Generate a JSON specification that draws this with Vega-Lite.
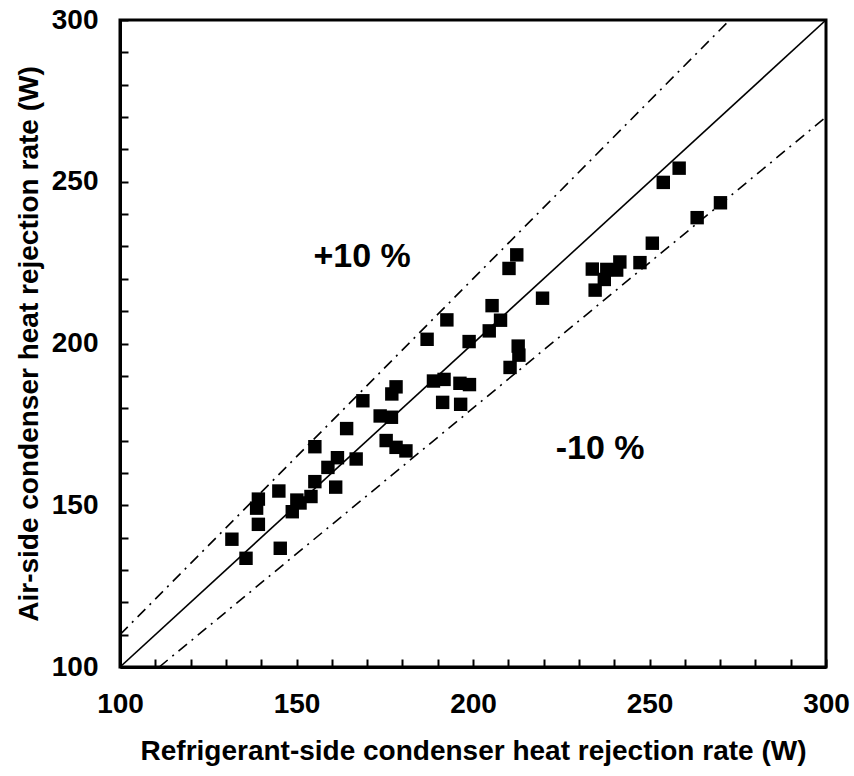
{
  "$schema": "https://vega.github.io/schema/vega-lite/v6.json",
  "autosize": "none",
  "width": 706,
  "height": 647,
  "padding": {"left": 120, "top": 20, "right": 28, "bottom": 109},
  "background": "white",
  "config": {
    "view": {"stroke": "black", "strokeWidth": 3},
    "axis": {
      "grid": false,
      "domainColor": "black",
      "domainWidth": 3,
      "tickColor": "black",
      "tickWidth": 2,
      "labelFont": "Liberation Sans",
      "labelFontWeight": "bold",
      "labelFontSize": 28,
      "labelColor": "black",
      "titleFont": "Liberation Sans",
      "titleFontWeight": "bold",
      "titleFontSize": 28,
      "titleColor": "black",
      "labelOverlap": false,
      "labelFlush": false
    }
  },
  "datasets": {
    "points": [
      {"ref": 131.7, "air": 139.5}, {"ref": 135.7, "air": 133.6}, {"ref": 138.7, "air": 149.1},
      {"ref": 139.2, "air": 151.9}, {"ref": 139.2, "air": 144.1}, {"ref": 145.0, "air": 154.4},
      {"ref": 145.4, "air": 136.7}, {"ref": 148.8, "air": 148.0}, {"ref": 150.1, "air": 151.6},
      {"ref": 151.0, "air": 150.7}, {"ref": 154.1, "air": 152.7}, {"ref": 155.2, "air": 157.3},
      {"ref": 155.2, "air": 168.1}, {"ref": 158.9, "air": 161.7}, {"ref": 161.1, "air": 155.6},
      {"ref": 161.6, "air": 164.7}, {"ref": 164.2, "air": 173.7}, {"ref": 166.9, "air": 164.3},
      {"ref": 168.8, "air": 182.3}, {"ref": 173.7, "air": 177.6}, {"ref": 175.4, "air": 170.0},
      {"ref": 176.9, "air": 177.2}, {"ref": 177.0, "air": 184.4}, {"ref": 178.2, "air": 186.6},
      {"ref": 178.2, "air": 167.9}, {"ref": 181.0, "air": 166.8}, {"ref": 187.0, "air": 201.3},
      {"ref": 188.8, "air": 188.4}, {"ref": 191.4, "air": 181.8}, {"ref": 191.8, "air": 188.9},
      {"ref": 192.6, "air": 207.3}, {"ref": 196.3, "air": 187.7}, {"ref": 196.5, "air": 181.2},
      {"ref": 198.9, "air": 200.6}, {"ref": 199.0, "air": 187.3}, {"ref": 204.6, "air": 203.9},
      {"ref": 205.4, "air": 211.7}, {"ref": 207.8, "air": 207.2}, {"ref": 210.2, "air": 223.2},
      {"ref": 210.5, "air": 192.6}, {"ref": 212.4, "air": 227.4}, {"ref": 212.8, "air": 199.2},
      {"ref": 213.0, "air": 196.4}, {"ref": 219.7, "air": 214.0}, {"ref": 233.8, "air": 223.0},
      {"ref": 234.6, "air": 216.5}, {"ref": 237.2, "air": 219.8}, {"ref": 237.9, "air": 222.9},
      {"ref": 240.7, "air": 222.7}, {"ref": 241.6, "air": 225.2}, {"ref": 247.3, "air": 225.0},
      {"ref": 250.8, "air": 231.0}, {"ref": 253.9, "air": 249.8}, {"ref": 258.4, "air": 254.2},
      {"ref": 263.5, "air": 238.9}, {"ref": 270.1, "air": 243.5}
    ],
    "lines": [
      {"line": "equal", "ref": 100, "air": 100},
      {"line": "equal", "ref": 300, "air": 300},
      {"line": "plus10", "ref": 100, "air": 110},
      {"line": "plus10", "ref": 272.73, "air": 300},
      {"line": "minus10", "ref": 111.11, "air": 100},
      {"line": "minus10", "ref": 300, "air": 270}
    ],
    "labels": [
      {"text": "+10 %", "ref": 168.6, "air": 226.7},
      {"text": "-10 %", "ref": 236.0, "air": 167.4}
    ]
  },
  "encoding": {
    "x": {
      "field": "ref", "type": "quantitative",
      "scale": {"domain": [100, 300], "nice": false, "zero": false},
      "axis": {
        "title": "Refrigerant-side condenser heat rejection rate (W)",
        "values": [100,110,120,130,140,150,160,170,180,190,200,210,220,230,240,250,260,270,280,290,300],
        "labelExpr": "datum.value % 50 === 0 ? datum.label : ''",
        "tickSize": -8,
        "labelPadding": 31,
        "titlePadding": 19
      }
    },
    "y": {
      "field": "air", "type": "quantitative",
      "scale": {"domain": [100, 300], "nice": false, "zero": false},
      "axis": {
        "title": "Air-side condenser heat rejection rate (W)",
        "values": [100,110,120,130,140,150,160,170,180,190,200,210,220,230,240,250,260,270,280,290,300],
        "labelExpr": "datum.value % 50 === 0 ? datum.label : ''",
        "tickSize": -8,
        "labelPadding": 30,
        "titlePadding": 8
      }
    }
  },
  "layer": [
    {
      "data": {"name": "lines"},
      "transform": [{"filter": "datum.line === 'equal'"}],
      "mark": {"type": "line", "color": "black", "strokeWidth": 1.6, "clip": true},
      "encoding": {"detail": {"field": "line"}}
    },
    {
      "data": {"name": "lines"},
      "transform": [{"filter": "datum.line !== 'equal'"}],
      "mark": {"type": "line", "color": "black", "strokeWidth": 1.6, "strokeDash": [11, 6, 2, 6], "clip": true},
      "encoding": {"detail": {"field": "line"}}
    },
    {
      "data": {"name": "points"},
      "mark": {"type": "point", "shape": "square", "filled": true, "color": "black", "size": 180, "opacity": 1}
    },
    {
      "data": {"name": "labels"},
      "mark": {"type": "text", "font": "Liberation Sans", "fontWeight": "bold", "fontSize": 34, "align": "center", "baseline": "middle", "color": "black"},
      "encoding": {"text": {"field": "text"}}
    }
  ]
}
